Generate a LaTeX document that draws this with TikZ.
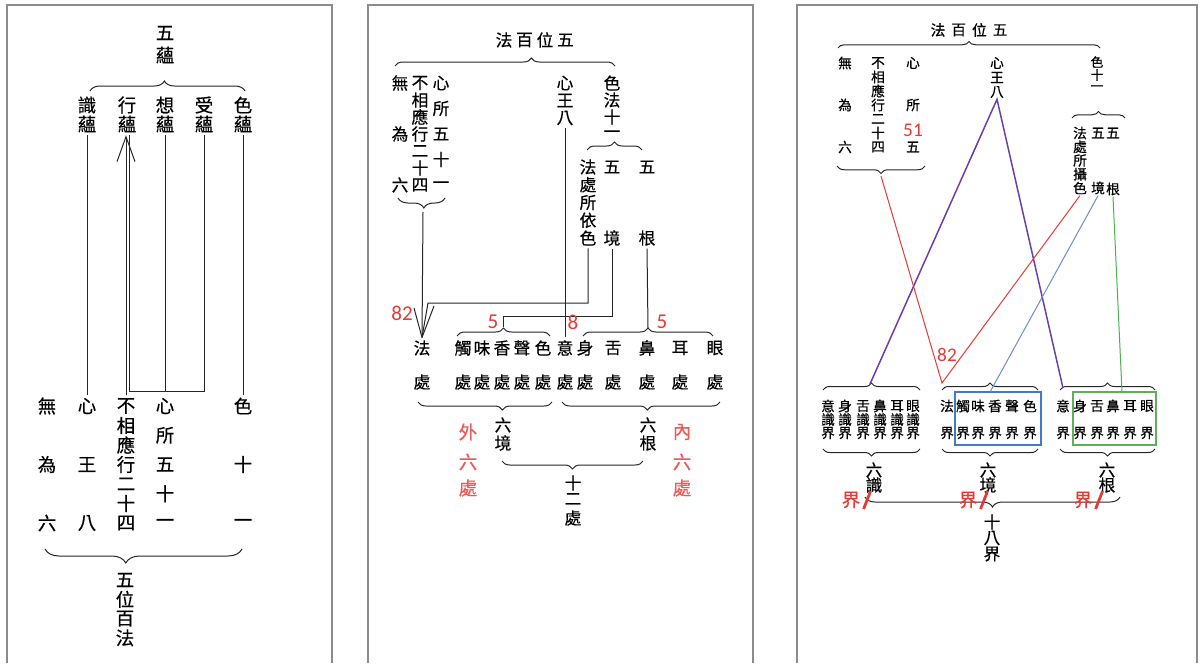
\documentclass[tikz,border=0pt]{standalone}
\usepackage{fontspec}
\newfontfamily\cjk[FakeBold=0.5]{Noto Sans CJK TC}
\newfontfamily\numfont{Carlito}
\usepackage{xcolor}
\definecolor{FrameGray}{HTML}{8C8C8C}
\definecolor{MarkRed}{HTML}{E53935}
\definecolor{SoftRed}{HTML}{EC5A55}
\definecolor{LinePurple}{HTML}{6A40A8}
\definecolor{LineBlue}{HTML}{6A8FD0}
\definecolor{LineGreen}{HTML}{4CAF50}
\definecolor{BoxBlue}{HTML}{3F7BC8}
\definecolor{BoxGreen}{HTML}{5DAE5D}
\usepackage{tikz}
\usetikzlibrary{calc}
\usetikzlibrary{arrows.meta}
\usetikzlibrary{decorations.pathreplacing}

\begin{document}
\begin{tikzpicture}[x=0.2mm,y=-0.2mm,
		chA/.style={font=\cjk\fontsize{10.5}{10.5}\selectfont,inner sep=0.5mm},
		chB/.style={font=\cjk\fontsize{9.5}{9.5}\selectfont,inner sep=0.5mm},
		chC/.style={font=\cjk\fontsize{7.8}{7.8}\selectfont,inner sep=0.2mm},
		num/.style={font=\numfont\fontsize{12}{12}\selectfont,text=MarkRed,inner sep=0pt},
		panelframe/.style={draw=FrameGray,line width=0.35mm},
		ln/.style={draw=black!85,line width=0.2mm},
		brc/.style={draw=black!85,line width=0.2mm,decorate,decoration={brace,amplitude=1.6mm,aspect=#1}},
		brc/.default=0.5]
		\useasboundingbox (0,0) rectangle (1202,663);
		
		% three panels
		\draw[panelframe] (7,663) |- (332,5) -- (332,663);
		\draw[panelframe] (368,663) |- (753,5) -- (753,663);
		\draw[panelframe] (797,663) |- (1197,5) -- (1197,663);
		
		% ---- panel 1
		\node[chA] (wuyun1) at (165,33) {五};
		\node[chA] (wuyun2) at (165,55) {蘊};
		\draw[brc=0.48,decoration={amplitude=2mm}] (90,91) -- (245,91);
		\foreach \a/\x [count=\i] in {識/87,行/127,想/165,受/204,色/243}{
			\node[chA] (yunA\i) at (\x,105) {\a};
			\node[chA] (yunB\i) at (\x,124) {蘊};
		}
		\foreach \a [count=\i from 0] in {無,為,六} \node[chA] (wuwei\i) at (47,406+58.5*\i) {\a};
		\foreach \a [count=\i from 0] in {心,王,八} \node[chA] (xinwang\i) at (87,406+58.5*\i) {\a};
		\foreach \a [count=\i from 0] in {不,相,應,行,二,十,四} \node[chA] (buxiang\i) at (126,406+19.5*\i) {\a};
		\foreach \a [count=\i from 0] in {心,所,五,十,一} \node[chA] (xinsuo\i) at (165,406+29.25*\i) {\a};
		\foreach \a [count=\i from 0] in {色,十,一} \node[chA] (sefa\i) at (243,406+58.5*\i) {\a};
		
		\coordinate (merge) at (129.5,391);
		\draw[ln] (yunB1.south) -- (xinwang0.north);
		\draw[ln,-{Straight Barb[length=5mm,width=3.6mm]}] (buxiang0.north) -- (buxiang0.north |- yunB2.south);
		\draw[ln] (yunB4.south) |- (merge) -- (merge |- yunB2.south);
		\draw[ln] (yunB3.south) -- (yunB3.south |- merge);
		\draw[ln] (yunB5.south) -- (sefa0.north);
		
		\draw[brc=0.59,decoration={amplitude=2.8mm}] (242,549) -- (45,549);
		\foreach \a [count=\i from 0] in {五,位,百,法} \node[chA] (wwbf\i) at (125,580+19.3*\i) {\a};
		
		% ---- panel 2
		\foreach \a [count=\i from 0] in {法,百,位,五} \node[chB] (titleB\i) at (504+20.5*\i,40) {\a};
		\draw[brc=0.62,decoration={amplitude=1.6mm}] (395,66) -- (615,66);
		
		\foreach \a [count=\i from 0] in {無,為,六} \node[chB] (wuweiB\i) at (400,83+51*\i) {\a};
		\foreach \a [count=\i from 0] in {不,相,應,行,二,十,四} \node[chB] (buxiangB\i) at (420,83+17*\i) {\a};
		\foreach \a [count=\i from 0] in {心,所,五,十,一} \node[chB] (xinsuoB\i) at (441,83+25.5*\i) {\a};
		\draw[brc=0.45,decoration={amplitude=2mm}] (445,198) -- (398,198);
		
		\foreach \a [count=\i from 0] in {心,王,八} \node[chB] (wangB\i) at (565,83+17.5*\i) {\a};
		\foreach \a [count=\i from 0] in {色,法,十,一} \node[chB] (seB\i) at (612,83+17*\i) {\a};
		\draw[brc,decoration={amplitude=1.6mm}] (587,150) -- (642,150);
		\foreach \a [count=\i from 0] in {法,處,所,依,色} \node[chB] (fachuB\i) at (588,167+17.75*\i) {\a};
		\node[chB] (jingB0) at (612,167) {五};
		\node[chB] (jingB1) at (612,238) {境};
		\node[chB] (genB0) at (647,167) {五};
		\node[chB] (genB1) at (647,238) {根};
		
		\foreach \a/\x [count=\i] in {法/422,觸/463,味/482,香/502,聲/522,色/543,意/565,身/585,舌/613,鼻/647,耳/680,眼/715}{
			\node[chB] (chuA\i) at (\x,348) {\a};
			\node[chB] (chuB\i) at (\x,382) {處};
		}
		\draw[brc] (457,336) -- (550,336);
		\draw[brc] (583,336) -- (713,336);
		
		\coordinate (leftTipB) at (423,212);
		\coordinate (bendA) at (428,303);
		\coordinate (slantL) at (414,308);
		\coordinate (slantR) at (434,306);
		\coordinate (bendB) at (503,316);
		\coordinate (jingTip) at (503,327);
		\coordinate (genTip) at (648,328);
		\draw[ln] (leftTipB) -- (chuA1.north);
		\draw[ln] (fachuB4.south) |- (bendA) -- (chuA1.north);
		\draw[ln] (slantL) -- (chuA1.north);
		\draw[ln] (slantR) -- (chuA1.north);
		\draw[ln] (jingB1.south) |- (bendB) -- (jingTip);
		\draw[ln] (genB1.south) -- (genTip);
		\draw[ln] (wangB2.south) -- (wangB2.south |- chuA7.north);
		
		\node[num] (n82B) at (402,313) {82};
		\node[num] (n5a) at (493,322) {5};
		\node[num] (n8) at (573,322) {8};
		\node[num] (n5b) at (662,322) {5};
		
		\draw[brc=0.37] (552,402) -- (418,402);
		\draw[brc=0.46] (720,402) -- (562,402);
		\node[chB] (jingC0) at (503,425) {六};
		\node[chB] (jingC1) at (503,443) {境};
		\node[chB] (genC0) at (648,425) {六};
		\node[chB] (genC1) at (648,443) {根};
		\foreach \a/\y [count=\i] in {外/432,六/462,處/488}{
			\node[chA,text=SoftRed] (wai\i) at (468,\y) {\a};
		}
		\foreach \a/\y [count=\i] in {內/432,六/462,處/488}{
			\node[chA,text=SoftRed] (nei\i) at (682,\y) {\a};
		}
		\draw[brc] (643,461) -- (502,461);
		\foreach \a/\y [count=\i] in {十/483,二/499,處/518} \node[chB] (shier\i) at (573,\y) {\a};
		
		% ---- panel 3
		\foreach \a [count=\i from 0] in {法,百,位,五} \node[chC,font=\cjk\fontsize{8.4}{8.4}\selectfont] (titleC\i) at (938+20.7*\i,30) {\a};
		\draw[brc,decoration={amplitude=1.3mm}] (838,48) -- (1100,48);
		
		\foreach \a [count=\i from 0] in {無,為,六} \node[chC] (wuweiC\i) at (845,63+42*\i) {\a};
		\foreach \a [count=\i from 0] in {不,相,應,行,二,十,四} \node[chC] (buxiangC\i) at (878,63+14*\i) {\a};
		\node[chC] (xinsuoC0) at (913,63) {心};
		\node[chC] (xinsuoC1) at (913,105) {所};
		\node[num,font=\numfont\fontsize{11}{11}\selectfont] (n51) at (913,130) {51};
		\node[chC] (xinsuoC2) at (913,147) {五};
		\draw[brc,decoration={amplitude=1.5mm}] (925,166) -- (837,166);
		
		\foreach \a [count=\i from 0] in {心,王,八} \node[chC] (wangC\i) at (997,63+14.5*\i) {\a};
		\foreach \a [count=\i from 0] in {色,十,一} \node[chC,font=\cjk\fontsize{7.2}{7.2}\selectfont,inner sep=0pt] (seC\i) at (1097,62+13*\i) {\a};
		\draw[brc,decoration={amplitude=1.3mm}] (1072,118) -- (1125,118);
		\foreach \a [count=\i from 0] in {法,處,所,攝,色} \node[chC] (fachuC\i) at (1080,133+13.75*\i) {\a};
		\node[chC] (jingD0) at (1098,133) {五};
		\node[chC] (jingD1) at (1098,188) {境};
		\node[chC] (genD0) at (1113,133) {五};
		\node[chC] (genD1) at (1113,189) {根};
		
		\foreach \a/\x [count=\i] in {意/828,身/845,舌/863,鼻/880,耳/897,眼/913}{
			\node[chC] (shiA\i) at (\x,406) {\a};
			\node[chC] (shiB\i) at (\x,419.5) {識};
			\node[chC] (shiC\i) at (\x,433) {界};
		}
		\foreach \a/\x [count=\i] in {法/947,觸/963,味/978,香/995,聲/1012,色/1030}{
			\node[chC] (jingE\i) at (\x,406) {\a};
			\node[chC] (jingF\i) at (\x,433) {界};
		}
		\foreach \a/\x [count=\i] in {意/1063,身/1080,舌/1097,鼻/1113,耳/1130,眼/1147}{
			\node[chC] (genE\i) at (\x,406) {\a};
			\node[chC] (genF\i) at (\x,433) {界};
		}
		\draw[draw=BoxBlue,line width=0.3mm] (955,392) rectangle (1041,445);
		\draw[draw=BoxGreen,line width=0.3mm] (1073,392) rectangle (1156,445);
		
		\draw[brc,decoration={amplitude=1.4mm}] (823,390) -- (920,390);
		\draw[brc,decoration={amplitude=1.4mm}] (942,390) -- (1038,390);
		\draw[brc,decoration={amplitude=1.4mm}] (1060,390) -- (1155,390);
		\draw[brc,decoration={amplitude=1.4mm}] (920,449) -- (823,449);
		\draw[brc,decoration={amplitude=1.4mm}] (1038,449) -- (942,449);
		\draw[brc,decoration={amplitude=1.4mm}] (1155,449) -- (1060,449);
		
		\foreach \a/\y [count=\i] in {六/470,識/485} \node[chB] (liushi\i) at (874,\y) {\a};
		\foreach \a/\y [count=\i] in {六/470,境/485} \node[chB] (liujing\i) at (988,\y) {\a};
		\foreach \a/\y [count=\i] in {六/470,根/485} \node[chB] (liugen\i) at (1107,\y) {\a};
		
		\draw[brc,decoration={amplitude=2mm}] (1120,497) -- (865,497);
		\foreach \a/\y [count=\i] in {十/522,八/538,界/554} \node[chB] (shiba\i) at (992,\y) {\a};
		\foreach \x [count=\i] in {851,968,1083}{
			\node[chA,text=MarkRed,inner sep=0.2mm] (jieR\i) at (\x,500) {界};
			\draw[MarkRed,line width=0.55mm] ($(jieR\i.east)+(2,9)$) -- ($(jieR\i.east)+(9,-9)$);
		}
		
		% coloured links
		\coordinate (tipWei) at (881,176);
		\coordinate (v82) at (942,383);
		\coordinate (tipShi) at (870,384);
		\coordinate (purpEnd) at (1063,388);
		\coordinate (blueTop) at (990,392);
		\coordinate (greenTop) at (1122,392);
		\draw[LinePurple,line width=0.3mm] (tipShi) -- (wangC2.south) -- (purpEnd);
		\draw[MarkRed,line width=0.2mm] (tipWei) -- (v82) -- (fachuC4.south);
		\draw[LineBlue,line width=0.2mm] (jingD1.south) -- (blueTop);
		\draw[LineGreen,line width=0.2mm] (genD1.south) -- (greenTop);
		\node[num,font=\numfont\fontsize{11}{11}\selectfont] (n82C) at (947,355) {82};
		
	\end{tikzpicture}
\end{document}
